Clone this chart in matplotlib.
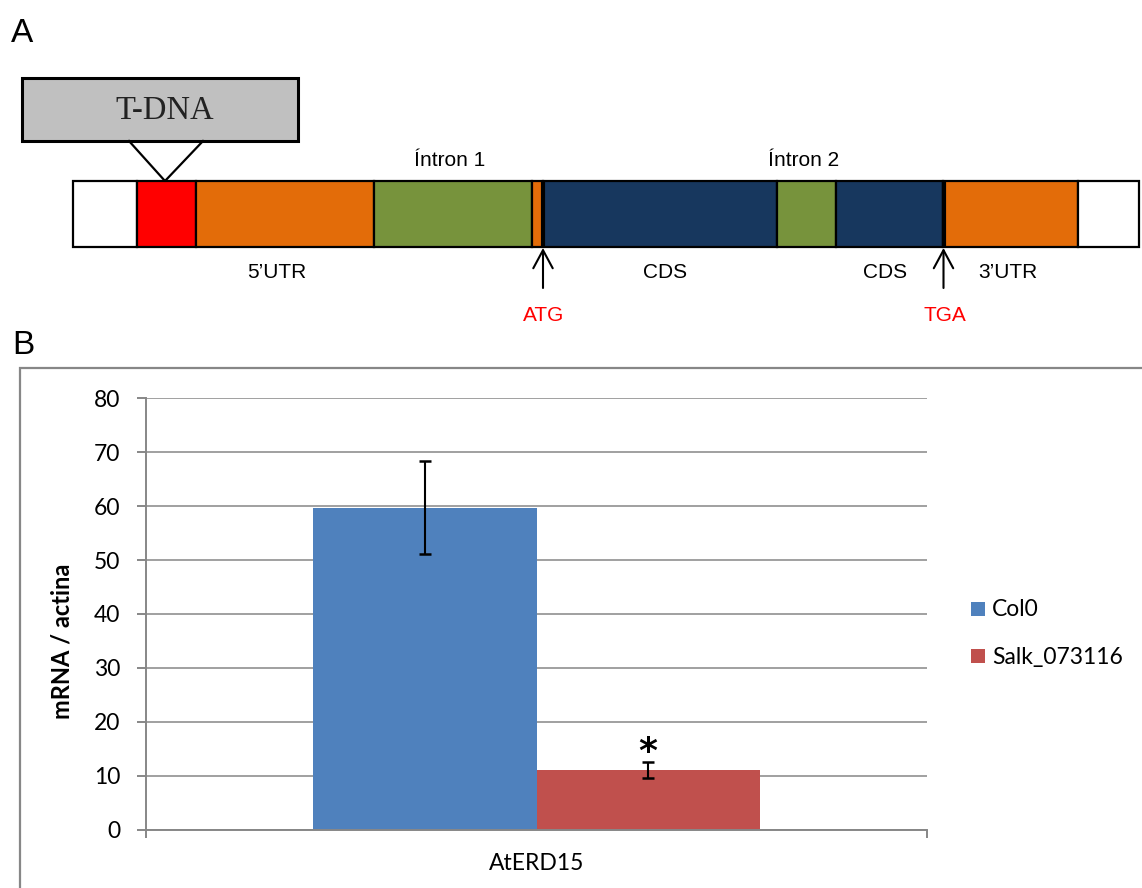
import matplotlib
matplotlib.use("Agg")
import matplotlib.pyplot as plt
from matplotlib.patches import Rectangle
import numpy as np

# ---------------- data ----------------
# Gene model (A): segment boundaries along the drawn gene, in diagram units
feature_edges = [73, 137, 196, 374, 532, 543, 777, 836, 943, 1078, 1139]
feature_colors = ['#FFFFFF', '#FF0000', '#E36C09', '#77933C', '#E36C09',
                  '#17375E', '#77933C', '#17375E', '#E36C09', '#FFFFFF']
start_codon_pos = 543
stop_codon_pos = 943.5
tdna_insert_pos = 165

above_labels = ['Íntron 1', 'Íntron 2']
above_label_pos = [450, 804]
below_labels = ['5’UTR', 'CDS', 'CDS', '3’UTR']
below_label_pos = [277, 665, 885, 1008]

# Expression (B)
groups = ['AtERD15']
series_names = ['Col0', 'Salk_073116']
series_values = [59.7, 11.0]
series_errors = [8.6, 1.5]
series_colors = ['#4F81BD', '#C0504D']
significant = [False, True]
y_ticks = [0, 10, 20, 30, 40, 50, 60, 70, 80]

# ---------------- figure ----------------
W, H = 1142, 888
fig = plt.figure(figsize=(W / 100, H / 100), dpi=100)
fig.patch.set_facecolor('white')

# Canvas in pixel units for the gene diagram, panel letters and frame
canvas = fig.add_axes([0, 0, 1, 1], zorder=0)
canvas.set_xlim(0, W)
canvas.set_ylim(H, 0)
canvas.axis('off')

sans = 'Liberation Sans'
serif = 'Liberation Serif'

# Panel letters
canvas.text(22, 33, 'A', fontsize=24, family=sans, ha='center', va='center')
canvas.text(23, 345, 'B', fontsize=24, family=sans, ha='center', va='center')

# ---- Gene model ----
bar_top, bar_bot = 181, 247
for x0, x1, c in zip(feature_edges[:-1], feature_edges[1:], feature_colors):
    canvas.add_patch(Rectangle((x0, bar_top), x1 - x0, bar_bot - bar_top,
                               facecolor=c, edgecolor='black', lw=1.6, zorder=2))
for xc in (start_codon_pos, stop_codon_pos):
    canvas.plot([xc, xc], [bar_top, bar_bot], color='black', lw=3, zorder=3,
                solid_capstyle='butt')

# T-DNA box and insertion wedge
canvas.add_patch(Rectangle((22, 78), 276, 63, facecolor='#C0C0C0',
                           edgecolor='black', lw=2.2, zorder=2))
canvas.text(165, 111, 'T-DNA', fontsize=23.5, family=serif, color='#222222',
            ha='center', va='center')
canvas.plot([129, tdna_insert_pos, 203], [141, bar_top, 141], color='black',
            lw=1.6, zorder=3)

for lab, x in zip(above_labels, above_label_pos):
    canvas.text(x, 160, lab, fontsize=15, family=sans, ha='center', va='center')
for lab, x in zip(below_labels, below_label_pos):
    canvas.text(x, 272, lab, fontsize=15, family=sans, ha='center', va='center')

for xc, lab in ((start_codon_pos, 'ATG'), (stop_codon_pos, 'TGA')):
    canvas.annotate('', xy=(xc, bar_bot + 1), xytext=(xc, 288),
                    arrowprops=dict(arrowstyle='->,head_length=0.65,head_width=0.35',
                                    color='black', lw=1.5, mutation_scale=20,
                                    shrinkA=0, shrinkB=0))
    canvas.text(xc + 1, 315, lab, fontsize=15, family=sans, color='#FF0000',
                ha='center', va='center')

# ---- Frame around panel B ----
canvas.plot([20, 20, W], [H, 368, 368], color='#878787', lw=1.6,
            solid_joinstyle='miter')

# ---- Bar chart ----
left, right = 146, 927
top, bottom = 398.3, 829.5
ax = fig.add_axes([left / W, 1 - bottom / H, (right - left) / W, (bottom - top) / H],
                  zorder=1)
ax.patch.set_alpha(0)

n = len(series_names)
bar_w = 1.0 / (n + 1.5)
x = np.arange(len(groups))
offsets = (np.arange(n) - (n - 1) / 2) * bar_w
for i in range(n):
    ax.bar(x + offsets[i], [series_values[i]], width=bar_w, color=series_colors[i],
           zorder=2, label=series_names[i])
    ax.errorbar(x + offsets[i], [series_values[i]], yerr=[series_errors[i]],
                fmt='none', ecolor='black', elinewidth=1.5, capsize=4.5,
                capthick=1.8, zorder=3)
    if significant[i]:
        ax.annotate('*', xy=(x[0] + offsets[i], series_values[i] + series_errors[i]),
                    xytext=(0, -5), textcoords='offset points', ha='center',
                    va='bottom', fontsize=26, fontweight='bold', family='DejaVu Sans')

ax.set_xlim(-0.5, len(groups) - 0.5)
ax.set_ylim(0, 80)
ax.set_yticks(y_ticks)
ax.yaxis.grid(True, color='#A0A0A0', lw=1.4, zorder=0)
ax.set_axisbelow(True)

for s in ('top', 'right'):
    ax.spines[s].set_visible(False)
for s in ('left', 'bottom'):
    ax.spines[s].set_color('#878787')
    ax.spines[s].set_linewidth(1.4)

ax.set_xticks(x)
ax.set_xticklabels(groups)
ax.set_xticks([-0.5, len(groups) - 0.5], minor=True)
ax.tick_params(axis='x', which='major', length=0, pad=17)
ax.tick_params(axis='x', which='minor', length=6, width=1.4, color='#878787',
               direction='out')
ax.tick_params(axis='y', length=6.5, width=1.4, color='#878787', direction='out',
               pad=12)
for t in ax.get_xticklabels() + ax.get_yticklabels():
    t.set_fontfamily('Lato')
    t.set_fontsize(16.5)
    t.set_color('black')

ax.set_ylabel('mRNA / actina', fontsize=17, fontweight='bold', family='Lato',
              va='center')
ax.yaxis.set_label_coords((62 - left) / (right - left), (bottom - 641) / (bottom - top))

# Legend
leg_y = [601.7, 649]
for name, c, y in zip(series_names, series_colors, leg_y):
    canvas.add_patch(Rectangle((970.6, y), 14.7, 14, facecolor=c, edgecolor='none'))
    canvas.text(992, y + 14.5, name, fontsize=16.5, family='Lato', ha='left',
                va='baseline')

fig.savefig('out.png', dpi=100, facecolor='white')
